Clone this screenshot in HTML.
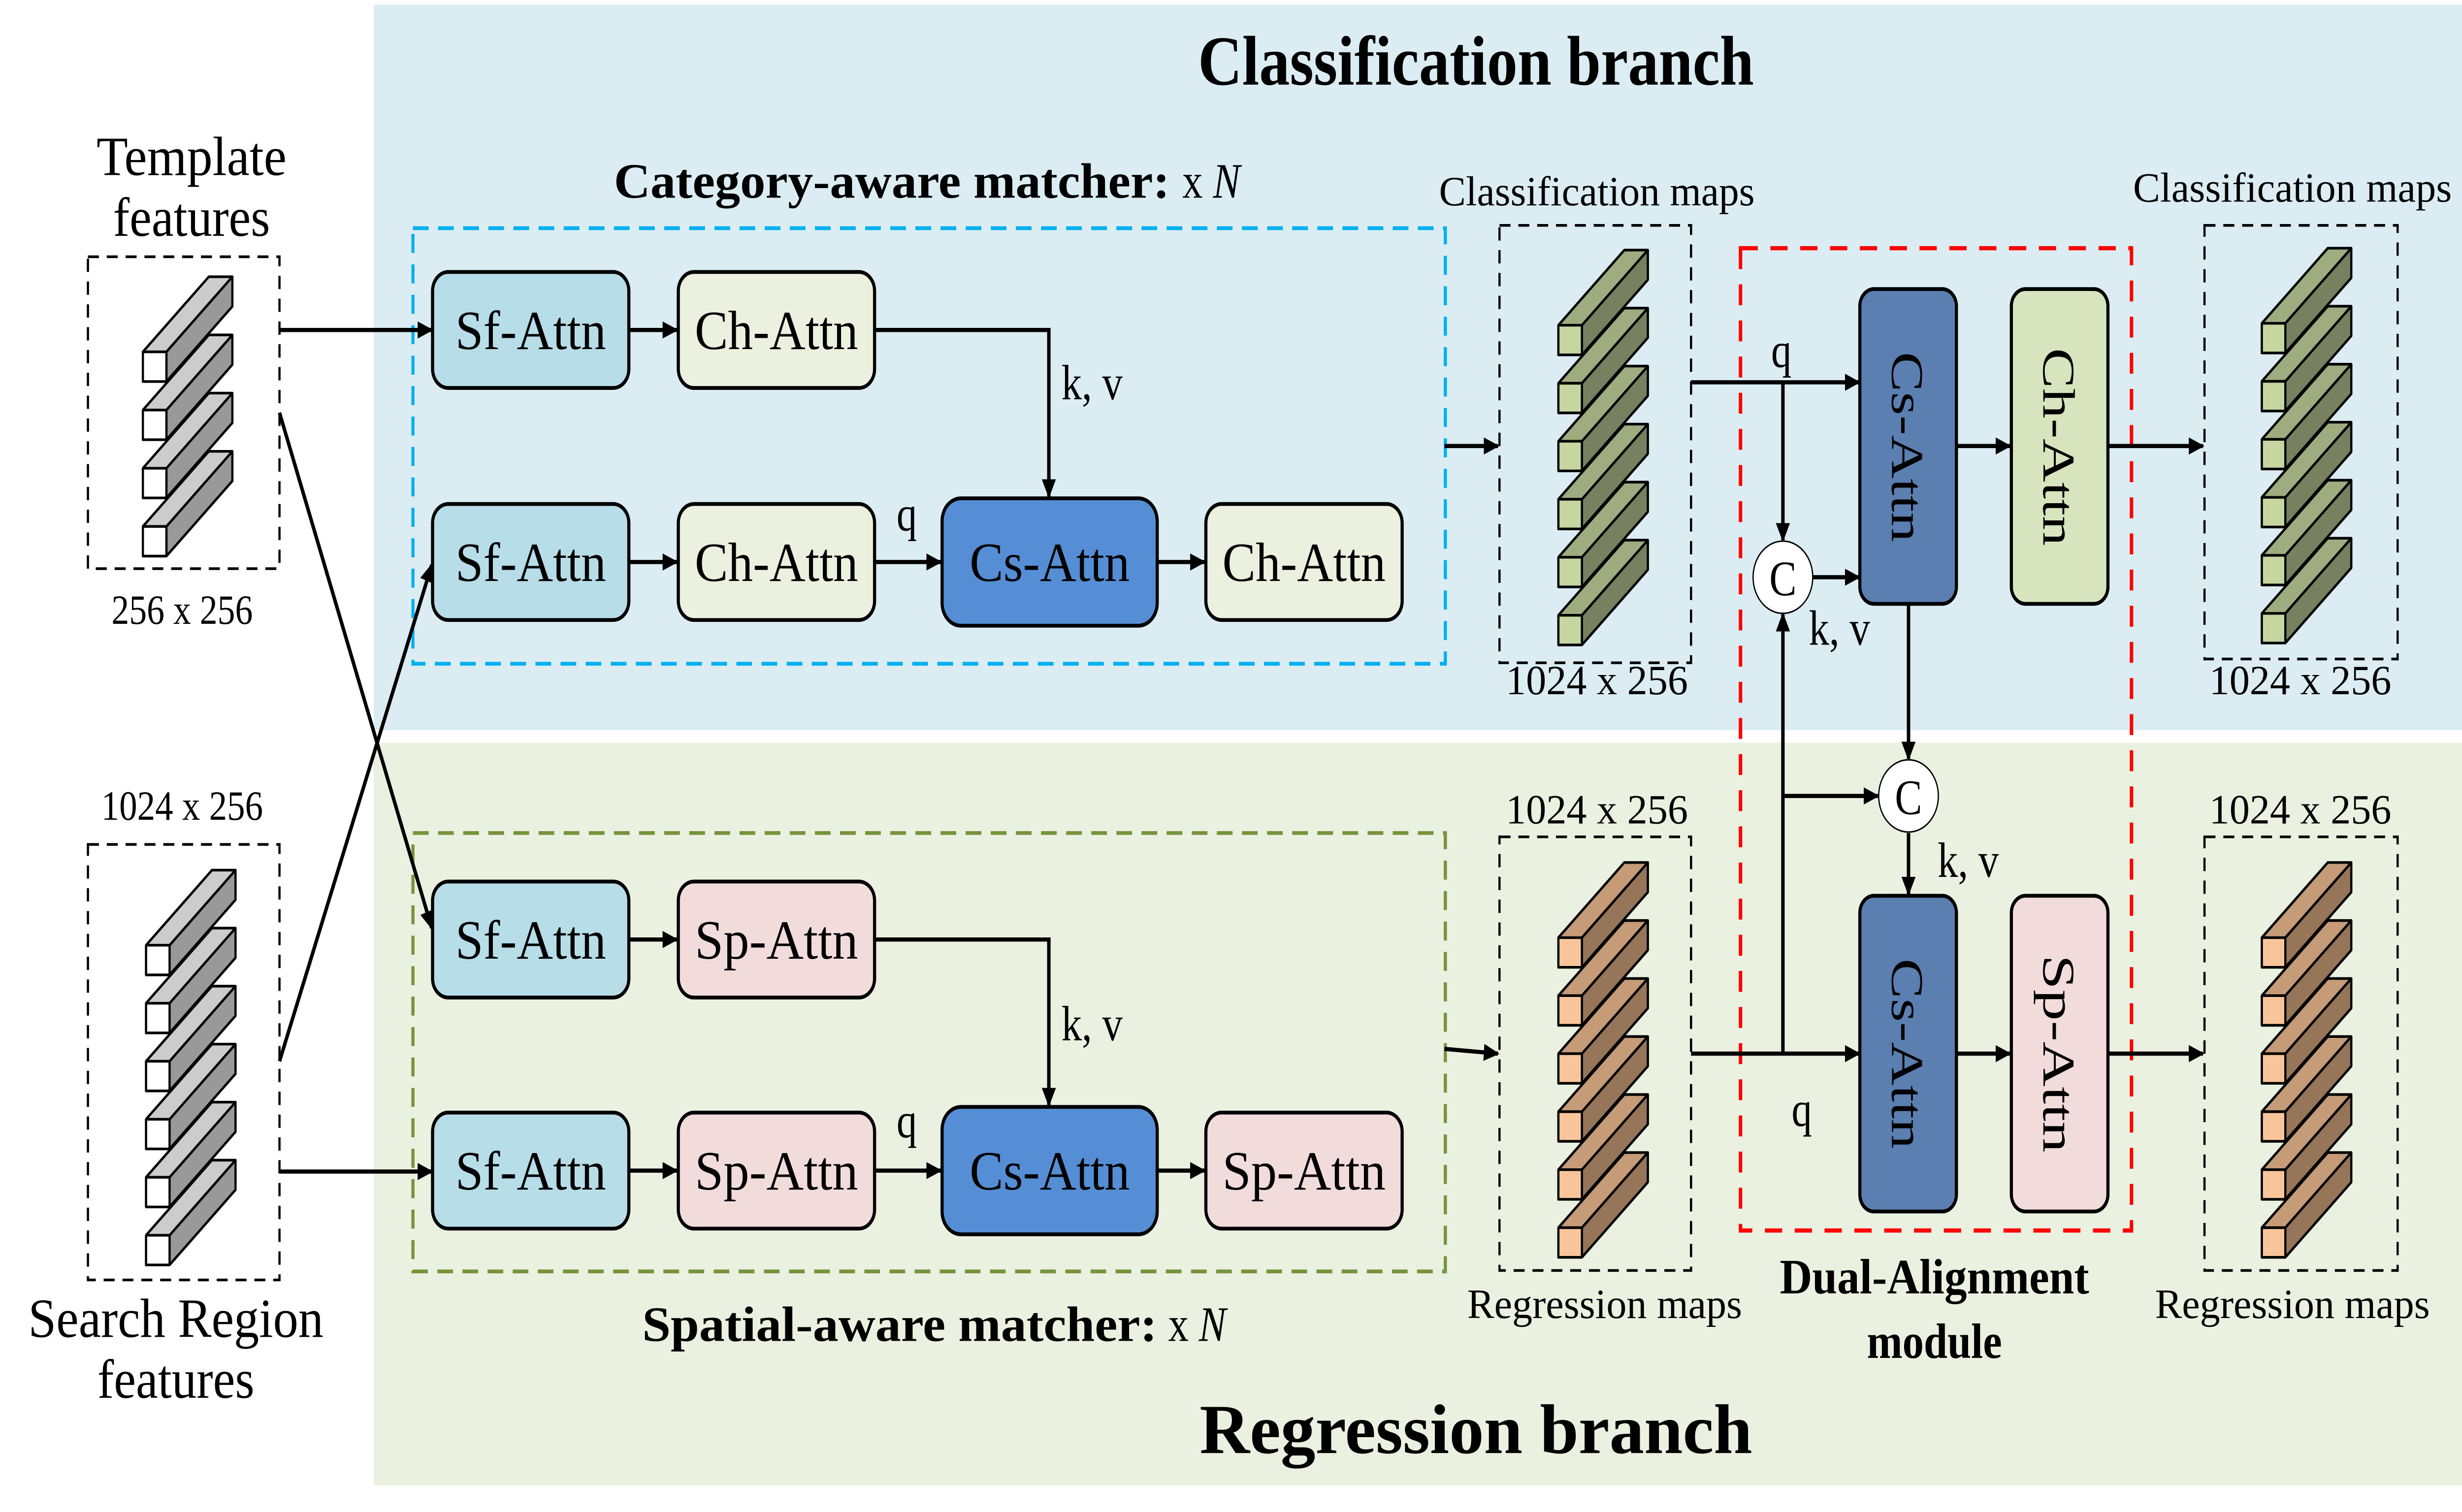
<!DOCTYPE html>
<html><head><meta charset="utf-8">
<style>
html,body{margin:0;padding:0;background:#fff;width:100%;height:100%;overflow:hidden}
svg{display:block;width:100vw;height:100vh;position:absolute;left:0;top:0}
svg text{font-family:"Liberation Serif","Times New Roman",serif}
</style></head>
<body>
<svg xmlns="http://www.w3.org/2000/svg" viewBox="0 0 1568 795" preserveAspectRatio="none">
<defs>
<marker id="ah" markerWidth="10" markerHeight="10" refX="9" refY="5" orient="auto" markerUnits="userSpaceOnUse" viewBox="0 0 10 10">
<path d="M0,0.5 L10,5 L0,9.5 Z" fill="#000"/></marker>
<g id="barG"><path d="M0,0 L42,-39.5 L57,-39.5 L15,0 Z" fill="#ccc"/><path d="M15,0 L57,-39.5 L57,-23.9 L15,15.6 Z" fill="#999"/><rect x="0" y="0" width="15" height="15.6" fill="#fff"/><path d="M0,0 L42,-39.5 L57,-39.5 L57,-23.9 L15,15.6 L0,15.6 Z M0,0 H15 V15.6 M15,0 L57,-39.5" fill="none" stroke="#000" stroke-width="1.4" stroke-linejoin="round"/></g>
<g id="barV"><path d="M0,0 L42,-39.5 L57,-39.5 L15,0 Z" fill="#9fac80"/><path d="M15,0 L57,-39.5 L57,-23.9 L15,15.6 Z" fill="#77805f"/><rect x="0" y="0" width="15" height="15.6" fill="#c5d6a1"/><path d="M0,0 L42,-39.5 L57,-39.5 L57,-23.9 L15,15.6 L0,15.6 Z M0,0 H15 V15.6 M15,0 L57,-39.5" fill="none" stroke="#000" stroke-width="1.4" stroke-linejoin="round"/></g>
<g id="barO"><path d="M0,0 L42,-39.5 L57,-39.5 L15,0 Z" fill="#c59b78"/><path d="M15,0 L57,-39.5 L57,-23.9 L15,15.6 Z" fill="#967558"/><rect x="0" y="0" width="15" height="15.6" fill="#f8c59a"/><path d="M0,0 L42,-39.5 L57,-39.5 L57,-23.9 L15,15.6 L0,15.6 Z M0,0 H15 V15.6 M15,0 L57,-39.5" fill="none" stroke="#000" stroke-width="1.4" stroke-linejoin="round"/></g>
</defs>
<rect width="1568" height="795" fill="#fff"/>
<rect x="238" y="2.4" width="1330" height="381.5" fill="#dbedf3"/>
<rect x="238" y="390.5" width="1330" height="390.5" fill="#eaf1e0"/>

<text x="940" y="44.5" font-size="37" font-weight="bold" text-anchor="middle" textLength="354" lengthAdjust="spacingAndGlyphs">Classification branch</text>
<text x="940" y="764" font-size="37" font-weight="bold" text-anchor="middle" textLength="352" lengthAdjust="spacingAndGlyphs">Regression branch</text>
<text x="122" y="92" font-size="29" text-anchor="middle" textLength="121" lengthAdjust="spacingAndGlyphs">Template</text>
<text x="122" y="124" font-size="29" text-anchor="middle" textLength="100" lengthAdjust="spacingAndGlyphs">features</text>
<text x="116" y="328" font-size="22" text-anchor="middle" textLength="90" lengthAdjust="spacingAndGlyphs">256 x 256</text>
<text x="116" y="431" font-size="22" text-anchor="middle" textLength="103" lengthAdjust="spacingAndGlyphs">1024 x 256</text>
<text x="112" y="703" font-size="29" text-anchor="middle" textLength="188" lengthAdjust="spacingAndGlyphs">Search Region</text>
<text x="112" y="735" font-size="29" text-anchor="middle" textLength="100" lengthAdjust="spacingAndGlyphs">features</text>
<text x="391" y="104" font-size="26" font-weight="bold" textLength="354" lengthAdjust="spacingAndGlyphs">Category-aware matcher:</text>
<text x="753" y="104" font-size="26">x <tspan font-style="italic">N</tspan></text>
<text x="409" y="705" font-size="26" font-weight="bold" textLength="328" lengthAdjust="spacingAndGlyphs">Spatial-aware matcher:</text>
<text x="744" y="705" font-size="26">x <tspan font-style="italic">N</tspan></text>
<text x="1017" y="108" font-size="22" text-anchor="middle" textLength="201" lengthAdjust="spacingAndGlyphs">Classification maps</text>
<text x="1017" y="365" font-size="22" text-anchor="middle" textLength="116" lengthAdjust="spacingAndGlyphs">1024 x 256</text>
<text x="1017" y="433" font-size="22" text-anchor="middle" textLength="116" lengthAdjust="spacingAndGlyphs">1024 x 256</text>
<text x="1022" y="693" font-size="22" text-anchor="middle" textLength="175" lengthAdjust="spacingAndGlyphs">Regression maps</text>
<text x="1460" y="106" font-size="22" text-anchor="middle" textLength="203" lengthAdjust="spacingAndGlyphs">Classification maps</text>
<text x="1465" y="365" font-size="22" text-anchor="middle" textLength="116" lengthAdjust="spacingAndGlyphs">1024 x 256</text>
<text x="1465" y="433" font-size="22" text-anchor="middle" textLength="116" lengthAdjust="spacingAndGlyphs">1024 x 256</text>
<text x="1460" y="693" font-size="22" text-anchor="middle" textLength="175" lengthAdjust="spacingAndGlyphs">Regression maps</text>
<text x="1232" y="680" font-size="26" font-weight="bold" text-anchor="middle" textLength="197" lengthAdjust="spacingAndGlyphs">Dual-Alignment</text>
<text x="1232" y="714" font-size="26" font-weight="bold" text-anchor="middle" textLength="86" lengthAdjust="spacingAndGlyphs">module</text>

<g fill="none" stroke="#000" stroke-width="1.4" stroke-dasharray="7,5">
<rect x="56" y="135" width="122" height="164"/>
<rect x="56" y="444" width="122" height="229"/>
<rect x="955" y="118.5" width="122" height="230"/>
<rect x="955" y="440" width="122" height="228"/>
<rect x="1404" y="118.5" width="123" height="228"/>
<rect x="1404" y="440" width="123" height="228"/>
</g>
<use href="#barG" x="91" y="185"/><use href="#barG" x="91" y="215.6"/><use href="#barG" x="91" y="246.2"/><use href="#barG" x="91" y="276.8"/>
<use href="#barG" x="93" y="497"/><use href="#barG" x="93" y="527.5"/><use href="#barG" x="93" y="558"/><use href="#barG" x="93" y="588.5"/><use href="#barG" x="93" y="619"/><use href="#barG" x="93" y="649.5"/>
<use href="#barV" x="992.5" y="171"/><use href="#barV" x="992.5" y="201.5"/><use href="#barV" x="992.5" y="232"/><use href="#barV" x="992.5" y="262.5"/><use href="#barV" x="992.5" y="293"/><use href="#barV" x="992.5" y="323.5"/>
<use href="#barO" x="992.5" y="493"/><use href="#barO" x="992.5" y="523.5"/><use href="#barO" x="992.5" y="554"/><use href="#barO" x="992.5" y="584.5"/><use href="#barO" x="992.5" y="615"/><use href="#barO" x="992.5" y="645.5"/>
<use href="#barV" x="1440.5" y="170"/><use href="#barV" x="1440.5" y="200.5"/><use href="#barV" x="1440.5" y="231"/><use href="#barV" x="1440.5" y="261.5"/><use href="#barV" x="1440.5" y="292"/><use href="#barV" x="1440.5" y="322.5"/>
<use href="#barO" x="1440.5" y="493"/><use href="#barO" x="1440.5" y="523.5"/><use href="#barO" x="1440.5" y="554"/><use href="#barO" x="1440.5" y="584.5"/><use href="#barO" x="1440.5" y="615"/><use href="#barO" x="1440.5" y="645.5"/>

<rect x="263" y="120" width="657.5" height="229" fill="none" stroke="#00b0f0" stroke-width="2" stroke-dasharray="10,6"/>
<rect x="263" y="438" width="657.5" height="230.5" fill="none" stroke="#77933c" stroke-width="2" stroke-dasharray="10,6"/>
<rect x="1108.5" y="130.5" width="249" height="516.5" fill="none" stroke="#ff0000" stroke-width="2.2" stroke-dasharray="11,8"/>

<g stroke="#000" stroke-width="2">
<rect x="275.5" y="143" width="125" height="61" rx="10" fill="#b7dde8"/>
<rect x="432" y="143" width="125" height="61" rx="10" fill="#ebf1de"/>
<rect x="275.5" y="265" width="125" height="61" rx="10" fill="#b7dde8"/>
<rect x="432" y="265" width="125" height="61" rx="10" fill="#ebf1de"/>
<rect x="600" y="262" width="137" height="67" rx="12" fill="#558ed5"/>
<rect x="768" y="265" width="125" height="61" rx="10" fill="#ebf1de"/>
<rect x="275.5" y="463.5" width="125" height="61" rx="10" fill="#b7dde8"/>
<rect x="432" y="463.5" width="125" height="61" rx="10" fill="#f2dcdb"/>
<rect x="275.5" y="585" width="125" height="61" rx="10" fill="#b7dde8"/>
<rect x="432" y="585" width="125" height="61" rx="10" fill="#f2dcdb"/>
<rect x="600" y="582" width="137" height="67" rx="12" fill="#558ed5"/>
<rect x="768" y="585" width="125" height="61" rx="10" fill="#f2dcdb"/>
<rect x="1184.5" y="152" width="61.5" height="165.5" rx="9" fill="#5a7fb0"/>
<rect x="1281" y="152" width="61.5" height="165.5" rx="9" fill="#d7e4bd"/>
<rect x="1184.5" y="471" width="61.5" height="166" rx="9" fill="#5a7fb0"/>
<rect x="1281" y="471" width="61.5" height="166" rx="9" fill="#f2dcdb"/>
</g>
<g font-size="29" text-anchor="middle">
<text x="338" y="183.5" textLength="96" lengthAdjust="spacingAndGlyphs">Sf-Attn</text>
<text x="494.5" y="183.5" textLength="104" lengthAdjust="spacingAndGlyphs">Ch-Attn</text>
<text x="338" y="305.5" textLength="96" lengthAdjust="spacingAndGlyphs">Sf-Attn</text>
<text x="494.5" y="305.5" textLength="104" lengthAdjust="spacingAndGlyphs">Ch-Attn</text>
<text x="668.5" y="305.5" textLength="102" lengthAdjust="spacingAndGlyphs">Cs-Attn</text>
<text x="830.5" y="305.5" textLength="104" lengthAdjust="spacingAndGlyphs">Ch-Attn</text>
<text x="338" y="504" textLength="96" lengthAdjust="spacingAndGlyphs">Sf-Attn</text>
<text x="494.5" y="504" textLength="104" lengthAdjust="spacingAndGlyphs">Sp-Attn</text>
<text x="338" y="625.5" textLength="96" lengthAdjust="spacingAndGlyphs">Sf-Attn</text>
<text x="494.5" y="625.5" textLength="104" lengthAdjust="spacingAndGlyphs">Sp-Attn</text>
<text x="668.5" y="625.5" textLength="102" lengthAdjust="spacingAndGlyphs">Cs-Attn</text>
<text x="830.5" y="625.5" textLength="104" lengthAdjust="spacingAndGlyphs">Sp-Attn</text>
<text transform="translate(1205,235) rotate(90)" textLength="100" lengthAdjust="spacingAndGlyphs">Cs-Attn</text>
<text transform="translate(1301.5,235) rotate(90)" textLength="104" lengthAdjust="spacingAndGlyphs">Ch-Attn</text>
<text transform="translate(1205,554) rotate(90)" textLength="100" lengthAdjust="spacingAndGlyphs">Cs-Attn</text>
<text transform="translate(1301.5,554) rotate(90)" textLength="104" lengthAdjust="spacingAndGlyphs">Sp-Attn</text>
</g>
<g font-size="26">
<text x="676" y="210">k, v</text>
<text x="676" y="547">k, v</text>
<text x="571" y="279">q</text>
<text x="571" y="598">q</text>
<text x="1128" y="193">q</text>
<text x="1141" y="592">q</text>
<text x="1152" y="339">k, v</text>
<text x="1234" y="461">k, v</text>
</g>

<g stroke="#000" stroke-width="2.2" fill="none" marker-end="url(#ah)">
<line x1="178" y1="173.5" x2="275" y2="173.5"/>
<line x1="178" y1="217" x2="275" y2="488"/>
<line x1="178" y1="558" x2="275" y2="297"/>
<line x1="178" y1="616" x2="275" y2="616"/>
<line x1="400.5" y1="173.5" x2="431" y2="173.5"/>
<line x1="400.5" y1="295.5" x2="431" y2="295.5"/>
<line x1="557" y1="295.5" x2="599" y2="295.5"/>
<line x1="737" y1="295.5" x2="767" y2="295.5"/>
<polyline points="557,173.5 668,173.5 668,261"/>
<line x1="400.5" y1="494" x2="431" y2="494"/>
<line x1="400.5" y1="615.5" x2="431" y2="615.5"/>
<line x1="557" y1="615.5" x2="599" y2="615.5"/>
<line x1="737" y1="615.5" x2="767" y2="615.5"/>
<polyline points="557,494 668,494 668,581"/>
<line x1="920" y1="234.5" x2="954" y2="234.5"/>
<line x1="920" y1="551.5" x2="954" y2="554"/>
<line x1="1077" y1="201" x2="1184" y2="201"/>
<line x1="1135.5" y1="201" x2="1135.5" y2="284"/>
<line x1="1154" y1="303.5" x2="1184" y2="303.5"/>
<line x1="1077" y1="554" x2="1184" y2="554"/>
<line x1="1135.5" y1="554" x2="1135.5" y2="323"/>
<line x1="1135.5" y1="418.5" x2="1196" y2="418.5"/>
<line x1="1215.5" y1="317.5" x2="1215.5" y2="399"/>
<line x1="1215.5" y1="438" x2="1215.5" y2="470"/>
<line x1="1246" y1="234.5" x2="1280" y2="234.5"/>
<line x1="1246" y1="554" x2="1280" y2="554"/>
<line x1="1342.5" y1="234.5" x2="1403" y2="234.5"/>
<line x1="1342.5" y1="554" x2="1403" y2="554"/>
</g>
<circle cx="1135.5" cy="303.5" r="19" fill="#fff" stroke="#000" stroke-width="0.8"/>
<circle cx="1215.5" cy="418.5" r="19" fill="#fff" stroke="#000" stroke-width="0.8"/>
<text x="1135.5" y="313" font-size="26" text-anchor="middle">C</text>
<text x="1215.5" y="428" font-size="26" text-anchor="middle">C</text>
</svg>
</body></html>
